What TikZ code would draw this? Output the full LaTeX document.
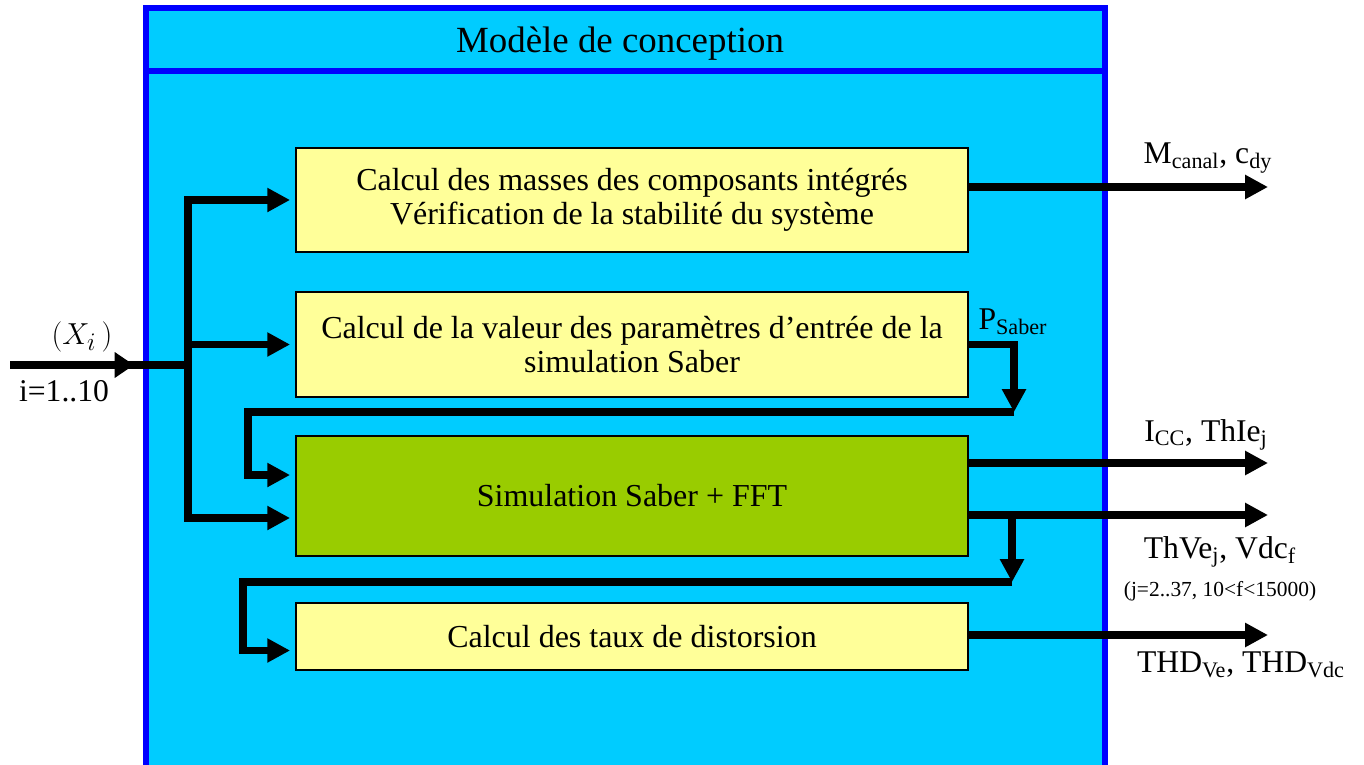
\documentclass[tikz,border=0pt]{standalone}
\usepackage{fontspec}
\setmainfont{Liberation Serif}
\usetikzlibrary{arrows.meta}

\definecolor{fondbleu}{HTML}{00CCFF}
\definecolor{bordbleu}{HTML}{0000FF}
\definecolor{jaune}{HTML}{FFFF99}
\definecolor{vert}{HTML}{99CC00}

\begin{document}
\begin{tikzpicture}[x=0.02cm,y=-0.02cm,>={Triangle[length=13pt,width=13pt]},
  main node/.style={rectangle,draw,fill=jaune,line width=0.8pt,align=center,minimum width=13.44cm,font=\fontsize{18.2}{19.5}\selectfont},
  fleche/.style={->,line width=4.5pt},
  trait/.style={line width=4.5pt},
  lbl/.style={inner sep=0pt,font=\fontsize{18}{20}\selectfont}]

\useasboundingbox (0,0) rectangle (1364,764);

%cadre du modele
\draw[draw=bordbleu,fill=fondbleu,line width=3.4pt] (146,8) rectangle (1105,800);
\draw[bordbleu,line width=3.4pt] (146,71) -- (1105,71);
\node[lbl,font=\fontsize{21}{24}\selectfont] (0) at (620,44) {Modèle de conception};

\node[main node,minimum height=2.08cm] (1) at (632,200) {Calcul des masses des composants intégrés\\Vérification de la stabilité du système};
\node[main node,minimum height=2.1cm] (2) at (632,344.5) {Calcul de la valeur des paramètres d’entrée de la\\simulation Saber};
\node[main node,minimum height=2.4cm,fill=vert] (3) at (632,496) {Simulation Saber + FFT};
\node[main node,minimum height=1.34cm] (4) at (632,636.5) {Calcul des taux de distorsion};

\coordinate (in) at (10,365);
\coordinate (bus) at (188,365);
\coordinate (p1) at (1014,412);
\coordinate (p2) at (248,412);
\coordinate (q1) at (1012,582);
\coordinate (q2) at (243,582);
\coordinate (o1) at (1268,187);
\coordinate (o2) at (1268,463);
\coordinate (o3) at (1268,515);
\coordinate (o4) at (1268,635);

%entree
\draw[fleche,>={Triangle[length=11pt,width=14pt]}] (in) -- (134,365);
\draw[trait] (120,365) -- (bus);
\draw[fleche,shorten >=3pt] (bus) |- (1.west);
\draw[fleche,shorten >=3pt] (bus) |- (2.west);
\draw[fleche,shorten >=3pt] (bus) |- ([yshift=-0.44cm]3.west);

%retours
\draw[fleche] (2.east) -| (p1);
\draw[fleche,shorten >=3pt] (p1) -- (p2) |- ([yshift=0.42cm]3.west);
\draw[fleche] (3.east |- o3) -| (q1);
\draw[fleche,shorten >=3pt] (q1) -- (q2) |- ([yshift=-0.28cm]4.west);

%sorties
\draw[fleche] (1.east |- o1) -- (o1);
\draw[fleche] (3.east |- o2) -- (o2);
\draw[fleche] (3.east |- o3) -- (o3);
\draw[fleche] (4.east |- o4) -- (o4);

%etiquettes
\node[lbl,font=\fontsize{19}{22}\selectfont] (x) at (82,337) {$(X_{i}\,)$};
\node[lbl] (i) at (64,391) {i=1..10};
\node[lbl] (ps) at (1013,322) {P\textsubscript{Saber}};
\node[lbl] (l1) at (1208,158) {M\textsubscript{canal}, c\textsubscript{dy}};
\node[lbl] (l2) at (1206,435) {I\textsubscript{CC}, ThIe\textsubscript{j}};
\node[lbl] (l3) at (1220,552) {ThVe\textsubscript{j}, Vdc\textsubscript{f}};
\node[lbl,font=\fontsize{12.2}{14}\selectfont] (l4) at (1220,591) {(j=2..37, 10<f<15000)};
\node[lbl] (l5) at (1241,665) {THD\textsubscript{Ve}, THD\textsubscript{Vdc}};

\end{tikzpicture}
\end{document}
